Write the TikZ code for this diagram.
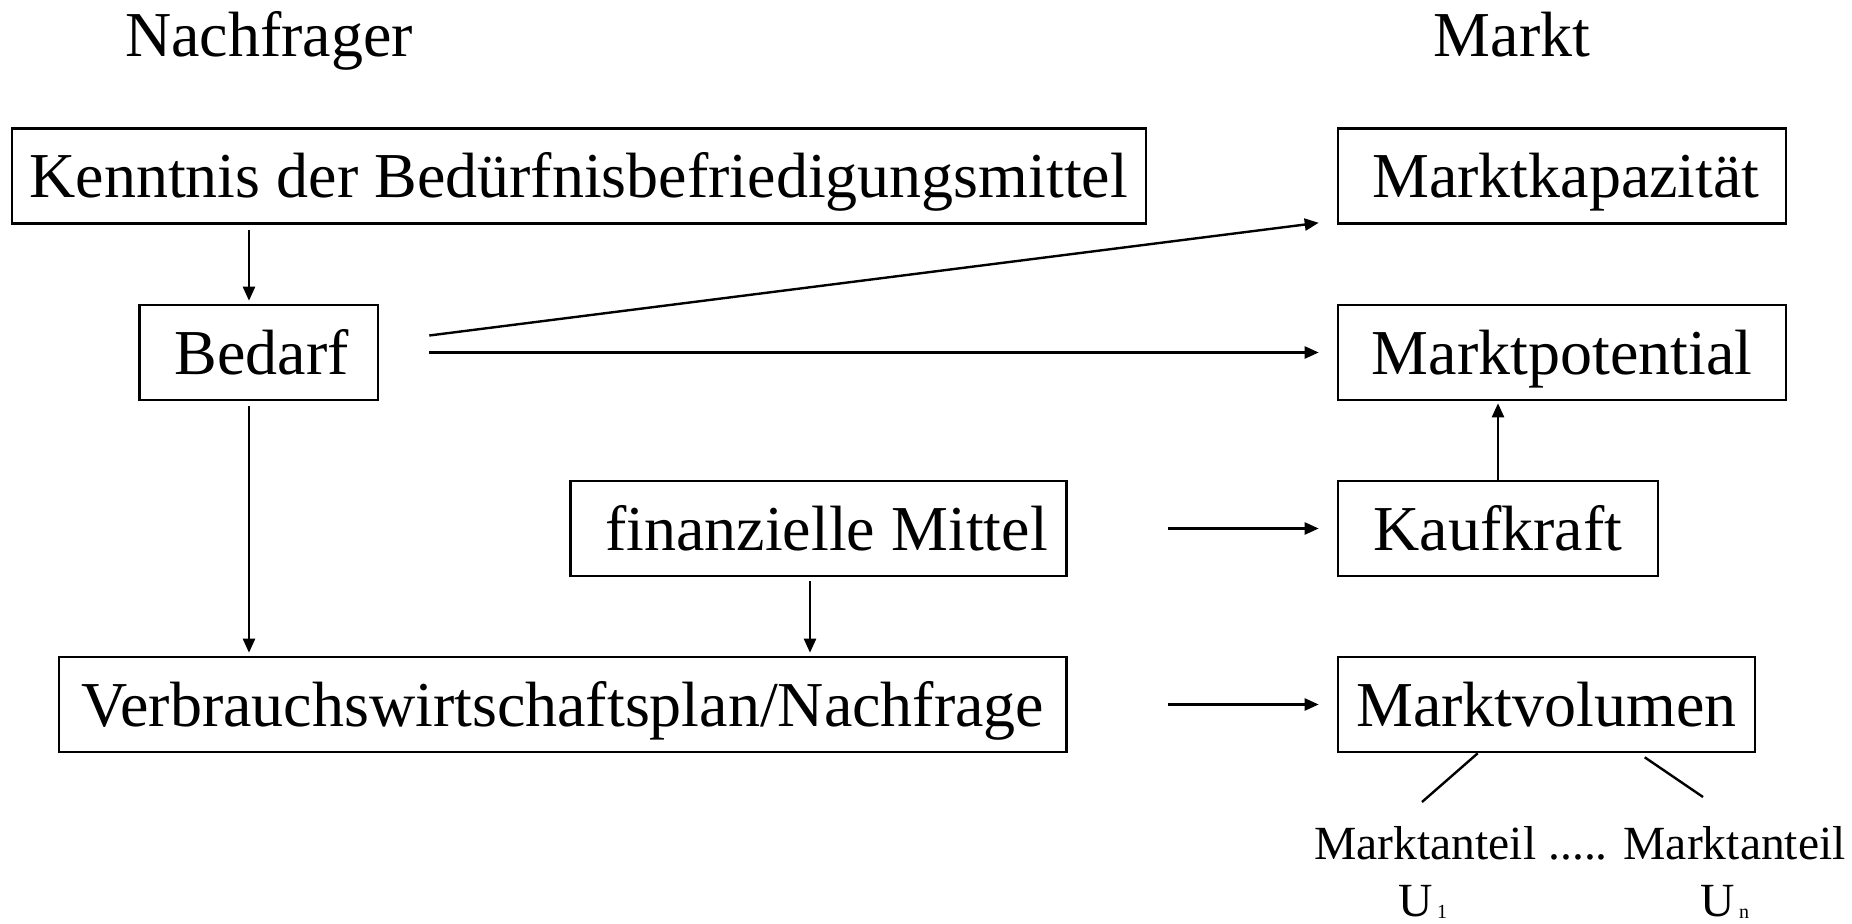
\documentclass[tikz,border=0pt]{standalone}
\usepackage{fontspec}
\setmainfont{Liberation Serif}
\usetikzlibrary{arrows.meta,calc}
\begin{document}
\begin{tikzpicture}[x=0.5pt,y=-0.5pt,
  box/.style={draw,line width=1.3pt,inner sep=0pt,minimum height=47.5pt,text height=22pt,text depth=0pt,font=\fontsize{32pt}{38pt}\selectfont},
  arr/.style={line width=1.2pt,-{Triangle[length=7pt,width=6pt]}},
  big/.style={font=\fontsize{32pt}{38pt}\selectfont,inner sep=0pt,anchor=base},
  small/.style={font=\fontsize{23.8pt}{28pt}\selectfont,inner sep=0pt,anchor=base},
  ln/.style={line width=1.2pt}]
\useasboundingbox (0,0) rectangle (1852,924);
% titles
\node[big] (nach) at (269,57) {Nachfrager};
\node[big] (markt) at (1512,57) {Markt};
% boxes
\node[box,minimum width=567pt] (ken) at (578.8,176) {Kenntnis der Bedürfnisbefriedigungsmittel};
\node[box,minimum width=119.3pt] (bed) at (258.7,352.5) {\hspace{3pt}Bedarf};
\node[box,minimum width=224pt] (mkap) at (1562,176) {\hspace{4pt}Marktkapazität};
\node[box,minimum width=224pt] (mpot) at (1562,352.5) {Marktpotential};
\node[box,minimum width=248pt] (fin) at (818.5,528.5) {\hspace{8pt}finanzielle Mittel};
\node[box,minimum width=160pt] (kauf) at (1498,528.5) {Kaufkraft};
\node[box,minimum width=503.75pt] (ver) at (562.7,704.5) {Verbrauchswirtschaftsplan/Nachfrage};
\node[box,minimum width=208.5pt] (mvol) at (1546.5,704.5) {Marktvolumen};
% helper x positions
\coordinate (xa) at (249,0);
\coordinate (xb) at (810,0);
% connectors
\draw[arr,shorten <=2.5pt,shorten >=1.5pt] (ken.south -| xa) -- (bed.north -| xa);
\draw[arr,shorten <=2.5pt,shorten >=1.5pt] (bed.south -| xa) -- (ver.north -| xa);
\draw[arr,shorten <=2pt,shorten >=1.5pt] (fin.south -| xb) -- (ver.north -| xb);
\coordinate (s1) at ($(bed.east)+(50,-17)$);
\coordinate (e1) at ($(mkap.south west)+(-18,-2)$);
\draw[arr] (s1) -- (e1);
\draw[arr,shorten <=25pt,shorten >=9pt] (bed.east) -- (mpot.west);
\draw[arr,shorten <=50pt,shorten >=9pt] (fin.east) -- (kauf.west);
\draw[arr,shorten <=50pt,shorten >=9pt] (ver.east) -- (mvol.west);
\draw[arr,shorten >=1pt] (kauf.north) -- (kauf.north |- mpot.south);
% market shares
\node[small] (ma) at (1580,859) {Marktanteil ..... Marktanteil};
\node[small] (u1) at (1423,916) {U\hspace{2pt}\raisebox{-1pt}{\fontsize{10pt}{12pt}\selectfont 1}};
\node[small] (un) at (1725,916) {U\hspace{2pt}\raisebox{-1pt}{\fontsize{10pt}{12pt}\selectfont n}};
\coordinate (m1a) at ($(mvol.south west)+(141,0)$);
\coordinate (m1b) at (1422,802);
\coordinate (m2a) at ($(mvol.south west)+(308,4)$);
\coordinate (m2b) at (1703,797);
\draw[ln] (m1a) -- (m1b);
\draw[ln] (m2a) -- (m2b);
\end{tikzpicture}
\end{document}
